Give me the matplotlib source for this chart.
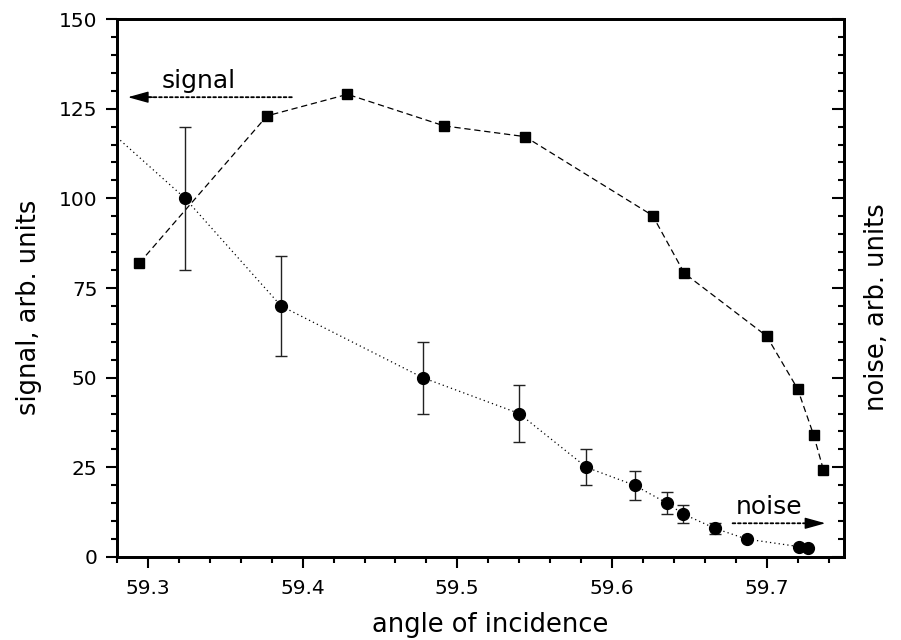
import matplotlib.pyplot as plt
from matplotlib.ticker import MultipleLocator

plt.rcParams['font.family'] = ['DejaVu Sans']

# signal (squares, dashed)
signal_x = [59.2945, 59.377, 59.429, 59.4915, 59.5438, 59.6263, 59.6468,
            59.700, 59.720, 59.7304, 59.7367]
signal_y = [82.0, 123.0, 129.0, 120.2, 117.2, 95.2, 79.1, 61.6, 46.9, 34.0, 24.3]

# noise (circles, dotted, with error bars)
noise_x = [59.324, 59.386, 59.4777, 59.540, 59.5835, 59.6146, 59.6356,
           59.646, 59.6665, 59.687, 59.7207, 59.727]
noise_y = [100, 70, 50, 40, 25, 20, 15, 12, 8, 5, 2.9, 2.4]
noise_err = [20, 14, 10, 8, 5, 4, 3, 2.4, 1.5, 0, 0, 0]

# dotted curve enters from the left edge
noise_line_x = [59.28] + noise_x
noise_line_y = [117] + noise_y

fig = plt.figure(figsize=(9.01, 6.4), dpi=100)
ax = fig.add_axes([0.1299, 0.1297, 0.9367 - 0.1299, 0.9703 - 0.1297])

ax.plot(signal_x, signal_y, color='black', lw=0.9, ls=(0, (5, 3)), zorder=2)
ax.plot(signal_x, signal_y, 's', color='black', ms=7.5, zorder=3)

ax.plot(noise_line_x, noise_line_y, color='black', lw=0.9, ls=(0, (1, 2.5)), zorder=2)
ax.errorbar(noise_x, noise_y, yerr=noise_err, fmt='none', ecolor='#222222',
            elinewidth=1.0, capsize=4, capthick=1.0, zorder=2)
ax.plot(noise_x, noise_y, 'o', color='black', ms=8.5, zorder=3)

ax.set_xlim(59.28, 59.75)
ax.set_ylim(0, 150)
ax.xaxis.set_major_locator(MultipleLocator(0.1))
ax.xaxis.set_minor_locator(MultipleLocator(0.02))
ax.yaxis.set_major_locator(MultipleLocator(25))
ax.yaxis.set_minor_locator(MultipleLocator(5))

for s in ax.spines.values():
    s.set_linewidth(2)
ax.tick_params(which='both', direction='out', top=False, right=False,
               width=1.5, labelsize=14.5)
ax.tick_params(which='major', length=8)
ax.tick_params(which='minor', length=4.5)
ax.tick_params(axis='x', pad=8)
ax.tick_params(axis='y', pad=6)

ax2 = ax.twinx()
ax2.set_ylim(0, 150)
ax2.yaxis.set_major_locator(MultipleLocator(25))
ax2.yaxis.set_minor_locator(MultipleLocator(5))
ax2.tick_params(which='both', direction='in', labelright=False, width=1.5)
ax2.tick_params(which='major', length=9)
ax2.tick_params(which='minor', length=4.5)
for s in ax2.spines.values():
    s.set_linewidth(2)

fig.text(0.544, 0.013, 'angle of incidence', fontsize=18.5,
         ha='center', va='baseline')
fig.text(0.032, 0.52, 'signal, arb. units', rotation=90, fontsize=18.5,
         ha='center', va='center')
fig.text(0.973, 0.52, 'noise, arb. units', rotation=90, fontsize=18.5,
         ha='center', va='center')


def dotted_arrow(x0, x1, y):
    # dotted shaft plus a solid filled head
    ax.annotate('', xy=(x1, y), xytext=(x0, y),
                arrowprops=dict(arrowstyle='-', ls=(0, (1.5, 1.5)), lw=1.3,
                                color='black', shrinkA=0, shrinkB=6))
    ax.annotate('', xy=(x1, y), xytext=(x1 + (x0 - x1) * 0.15, y),
                arrowprops=dict(arrowstyle='-|>,head_length=0.9,head_width=0.25',
                                lw=1.0, color='black', mutation_scale=14,
                                shrinkA=0, shrinkB=0))


dotted_arrow(59.393, 59.287, 128.2)
ax.text(59.333, 132.6, 'signal', fontsize=18, ha='center', va='center')

dotted_arrow(59.678, 59.738, 9.4)
ax.text(59.7017, 13.8, 'noise', fontsize=18, ha='center', va='center')

fig.savefig('out.png', dpi=100)
